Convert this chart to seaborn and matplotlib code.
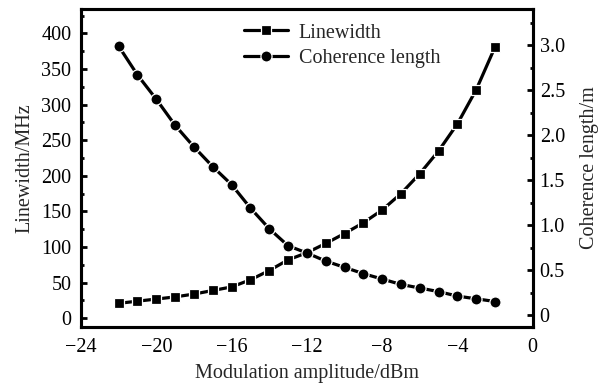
import numpy as np
import pandas as pd
import matplotlib
matplotlib.use("Agg")
import matplotlib.pyplot as plt
import seaborn as sns
from matplotlib.ticker import MultipleLocator, FixedLocator, FuncFormatter

# datos
amplitud = [-22, -21, -20, -19, -18, -17, -16, -15, -14, -13, -12,
            -11, -10, -9, -8, -7, -6, -5, -4, -3, -2]
linewidth = [21, 24, 27, 30, 34, 39, 44, 54, 67, 82, 92,
             105, 119, 134, 152, 175, 203, 235, 273, 321, 381]
coherencia = [2.99, 2.67, 2.40, 2.11, 1.87, 1.65, 1.45, 1.19, 0.96, 0.77, 0.69,
              0.60, 0.53, 0.46, 0.40, 0.34, 0.30, 0.26, 0.21, 0.18, 0.15]

df = pd.DataFrame({"amp": amplitud, "lw": linewidth, "cl": coherencia})

sns.set_style("white")
plt.rcParams["font.family"] = ["Liberation Serif", "DejaVu Serif"]

fs = 14.5

fig = plt.figure(figsize=(6.01, 3.89), dpi=100)
ax = fig.add_axes([0.1348, 0.1602, 0.7516, 0.8158])
ax2 = ax.twinx()

sns.lineplot(data=df, x="amp", y="lw", ax=ax, color="black", marker="s",
             markersize=7, markeredgecolor="white", markeredgewidth=0.9,
             linewidth=2.3, label="Linewidth", legend=False)
sns.lineplot(data=df, x="amp", y="cl", ax=ax2, color="black", marker="o",
             markersize=8, markeredgecolor="white", markeredgewidth=0.9,
             linewidth=2.3, label="Coherence length", legend=False)

ax.set_xlim(-24, 0)
ax.set_ylim(-11.8, 433.7)
ax2.set_ylim(-0.13, 3.40)

ax.xaxis.set_major_locator(MultipleLocator(4))
ax.xaxis.set_minor_locator(MultipleLocator(2))
ax.yaxis.set_major_locator(FixedLocator(np.arange(0, 401, 50)))
ax.yaxis.set_minor_locator(FixedLocator(np.arange(25, 430, 50)))
ax2.yaxis.set_major_locator(FixedLocator(np.arange(0, 3.01, 0.5)))
ax2.yaxis.set_minor_locator(FixedLocator(np.arange(0.25, 3.4, 0.5)))
ax2.yaxis.set_major_formatter(FuncFormatter(lambda v, p: "0" if v == 0 else "%.1f" % v))
ax.xaxis.set_major_formatter(FuncFormatter(lambda v, p: ("\u2212%d" % -v) if v < 0 else "%d" % v))

for a in (ax, ax2):
    for s in a.spines.values():
        s.set_linewidth(2.2)
        s.set_color("black")
    a.tick_params(which="major", direction="in", length=4, width=2, labelsize=fs, colors="black")
    a.tick_params(which="minor", direction="in", length=2.5, width=2, colors="black")

ax.tick_params(axis="x", which="both", top=False, pad=8)
ax.tick_params(axis="y", which="both", right=False, pad=7)
ax2.tick_params(axis="y", which="both", left=False, right=True, pad=5)

ax.set_xlabel("Modulation amplitude/dBm", fontsize=fs, labelpad=5)
ax.set_ylabel("Linewidth/MHz", fontsize=fs, labelpad=5)
ax2.set_ylabel("Coherence length/m", fontsize=fs, labelpad=11)

h1, l1 = ax.get_legend_handles_labels()
h2, l2 = ax2.get_legend_handles_labels()
ax2.legend(h1 + h2, l1 + l2, loc="upper left", bbox_to_anchor=(0.33, 1.0),
           frameon=False, fontsize=fs, handlelength=2.2, handletextpad=0.5,
           labelspacing=0.3, borderaxespad=0.3)

plt.savefig("out.png", dpi=100)
